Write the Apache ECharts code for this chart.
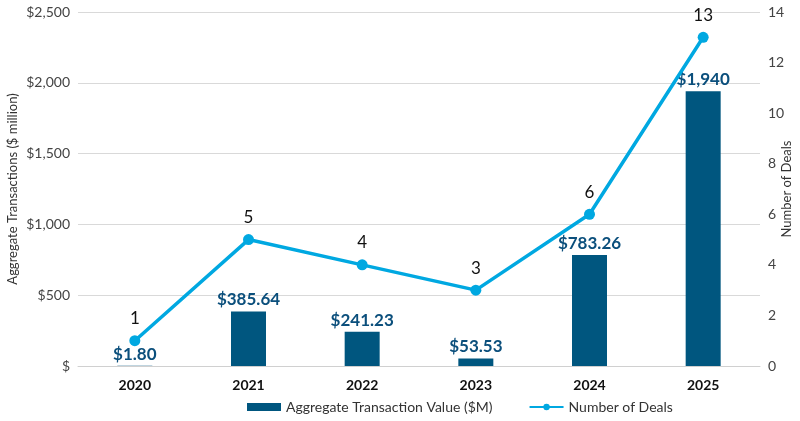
<!DOCTYPE html>
<html style="height: 100%">
<head>
  <meta charset="utf-8">
  <script src="https://cdn.jsdelivr.net/npm/echarts@6/dist/echarts.min.js"></script>
</head>
<body style="height: 100%; margin: 0; background: #fff">
  <div id="container" style="width: 800px; height: 421px"></div>
  <script>
    var years = ['2020', '2021', '2022', '2023', '2024', '2025'];
    var values = [1.80, 385.64, 241.23, 53.53, 783.26, 1940];
    var valueLabels = ['$1.80', '$385.64', '$241.23', '$53.53', '$783.26', '$1,940'];
    var deals = [1, 5, 4, 3, 6, 13];

    var chart = echarts.init(document.getElementById('container'));
    var font = 'Lato, "Open Sans", sans-serif';

    var option = {
      animation: false,
      textStyle: { fontFamily: font },
      grid: { left: 78, right: 40, top: 12, bottom: 55, outerBoundsMode: 'none', containLabel: false },
      legend: {
        left: 242,
        bottom: 2,
        itemGap: 36,
        itemWidth: 34,
        itemHeight: 8,
        textStyle: { fontSize: 14, color: '#333', fontFamily: font },
        data: [
          { name: 'Aggregate Transaction Value ($M)', icon: 'rect' },
          { name: 'Number of Deals' }
        ]
      },
      xAxis: {
        type: 'category',
        data: years,
        axisTick: { show: false },
        axisLine: { lineStyle: { color: '#d0d0d0' } },
        axisLabel: { fontSize: 14, fontWeight: 'bold', color: '#111', margin: 12 }
      },
      yAxis: [{
        type: 'value',
        min: 0, max: 2500, interval: 500,
        name: 'Aggregate Transactions ($ million)',
        nameLocation: 'middle',
        nameGap: 59,
        nameMoveOverlap: false,
        nameTextStyle: { fontSize: 13, color: '#333' },
        axisLabel: {
          fontSize: 14, color: '#444', margin: 8,
          formatter: function (v) { return v === 0 ? '$' : '$' + v.toLocaleString('en-US'); }
        },
        splitLine: { lineStyle: { color: '#d9d9d9' } }
      }, {
        type: 'value',
        min: 0, max: 14, interval: 2,
        name: 'Number of Deals',
        nameLocation: 'middle',
        nameGap: 20,
        nameMoveOverlap: false,
        nameTextStyle: { fontSize: 13, color: '#333' },
        axisLabel: { fontSize: 14, color: '#444', margin: 8 },
        splitLine: { show: false }
      }],
      series: [{
        name: 'Aggregate Transaction Value ($M)',
        type: 'bar',
        data: values,
        barWidth: 35,
        itemStyle: { color: '#00567f' },
        label: {
          show: true,
          position: 'top',
          distance: 3,
          fontSize: 17,
          fontWeight: 'bold',
          color: '#0b4f7c',
          formatter: function (p) { return valueLabels[p.dataIndex]; }
        }
      }, {
        name: 'Number of Deals',
        type: 'line',
        yAxisIndex: 1,
        data: deals,
        symbol: 'circle',
        symbolSize: 11,
        lineStyle: { width: 3.5, color: '#00a8e1' },
        itemStyle: { color: '#00a8e1' },
        label: {
          show: true,
          position: 'top',
          distance: 8,
          fontSize: 17,
          color: '#111'
        }
      }]
    };
    chart.setOption(option);
  </script>
</body>
</html>
